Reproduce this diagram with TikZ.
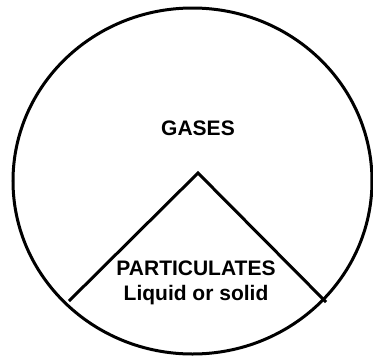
\documentclass[tikz,border=0pt]{standalone}
\usepackage{fontspec}
\setmainfont{Liberation Sans}
\usepackage{tikz}
\usetikzlibrary{shapes.geometric, positioning}
\definecolor{myink}{RGB}{0,0,0}
\tikzset{
  outline/.style={draw=myink, line width=3pt},
  split/.style={draw=myink, line width=3pt, line cap=butt},
  label/.style={font=\fontsize{21}{25}\selectfont\bfseries, align=center,
    text=myink, inner sep=0pt}
}
\begin{document}
\begin{tikzpicture}[x=1pt, y=-1pt]
  \useasboundingbox (0,0) rectangle (373,360);
  \node[outline, ellipse, minimum width=359pt, minimum height=346pt, inner sep=0pt]
    (whole) at (192.5,181) {};
  \coordinate (apex) at (198,173);
  \coordinate (lend) at (69,301);
  \coordinate (rend) at (326,302);
  \draw[split] (lend) -- (apex) -- (rend);
  \node[label] (gases) at (198,128) {GASES};
  \node[label] (part) at (196,283) {PARTICULATES\\Liquid or solid};
\end{tikzpicture}
\end{document}
